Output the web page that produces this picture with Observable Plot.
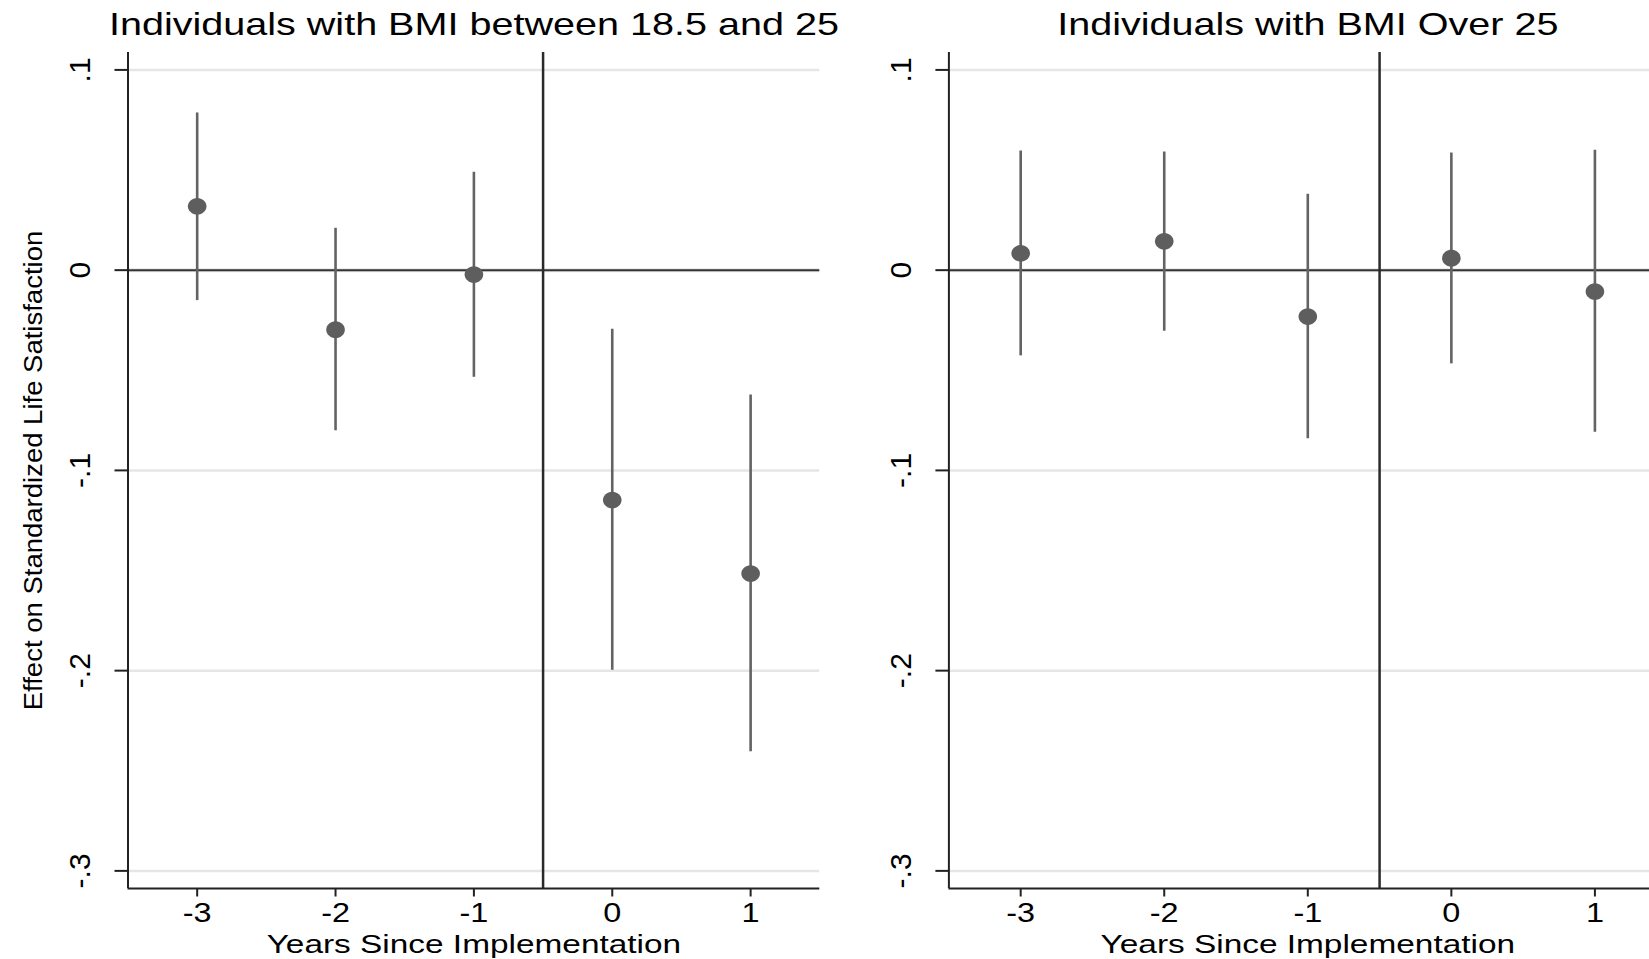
<!DOCTYPE html>
<html><head><meta charset="utf-8">
<script src="https://cdn.jsdelivr.net/npm/d3@7"></script>
<script src="https://cdn.jsdelivr.net/npm/@observablehq/plot@0.6"></script>
<style>
html,body{margin:0;padding:0;background:#fff;overflow:hidden;width:1649px;height:959px}
#wrap{position:relative;width:1649px;height:959px;overflow:hidden;background:#fff}
#left{position:absolute;left:0;top:0;width:830px;z-index:2}
#right{position:absolute;left:830px;top:0;width:850px;z-index:1}
#wrap svg{max-width:none !important;display:block;background:transparent !important}
</style></head><body><div id="wrap"><div id="left"></div><div id="right"></div></div>
<script>
// ---- data ----
const years = [-3, -2, -1, 0, 1];
const xTickLabels = ["-3", "-2", "-1", "0", "1"];
const yTicks = [0.1, 0, -0.1, -0.2, -0.3];
const yTickLabels = [".1", "0", "-.1", "-.2", "-.3"];
const titleLeft = "Individuals with BMI between 18.5 and 25";
const titleRight = "Individuals with BMI Over 25";
const xTitle = "Years Since Implementation";
const yTitle = "Effect on Standardized Life Satisfaction";
const normalEst = [0.0319, -0.0297, -0.0022, -0.1148, -0.1515];
const normalLo  = [-0.0152, -0.0802, -0.0535, -0.1998, -0.2405];
const normalHi  = [0.0785, 0.0209, 0.0489, -0.0295, -0.0623];
const overEst = [0.0084, 0.0144, -0.0232, 0.0060, -0.0107];
const overLo  = [-0.0428, -0.0305, -0.0842, -0.0468, -0.0810];
const overHi  = [0.0595, 0.0590, 0.0379, 0.0585, 0.0599];
const treatmentLine = -0.5;
const xDomain = [-3.5, 1.5];
const yDomain = [-0.3088, 0.1087];

// elliptical marker (Stata circles appear slightly wide)
const ellipse = {draw(ctx, size) {
  const r = Math.sqrt(size / Math.PI), rx = r * 1.12, ry = r, k = 0.5523;
  ctx.moveTo(rx, 0);
  ctx.bezierCurveTo(rx, k*ry, k*rx, ry, 0, ry);
  ctx.bezierCurveTo(-k*rx, ry, -rx, k*ry, -rx, 0);
  ctx.bezierCurveTo(-rx, -k*ry, -k*rx, -ry, 0, -ry);
  ctx.bezierCurveTo(k*rx, -ry, rx, -k*ry, rx, 0);
  ctx.closePath();
}};

function panel({title, est, lo, hi, width, marginLeft, marginRight, yTitleOn}) {
  const rows = years.map((x, i) => ({x, est: est[i], lo: lo[i], hi: hi[i]}));
  const yt = yTicks.map((v, i) => ({v, label: yTickLabels[i]}));
  const xt = years.map((v, i) => ({v, label: xTickLabels[i]}));
  const marks = [
    Plot.ruleY(yTicks.filter(v => v !== 0), {stroke: "#e6e6e6", strokeWidth: 2.5}),
    Plot.ruleY([0], {stroke: "#e6e6e6", strokeWidth: 4}),
    Plot.ruleY([0], {stroke: "#333333", strokeWidth: 2}),
    Plot.ruleX([treatmentLine], {stroke: "#2a2a2a", strokeWidth: 2.5}),
    Plot.ruleX(rows, {x: "x", y1: "lo", y2: "hi", stroke: "#636363", strokeWidth: 2.6}),
    Plot.dot(rows, {x: "x", y: "est", r: 8.3, symbol: ellipse, fill: "#5e5e5e", stroke: "none"}),
    Plot.ruleX([xDomain[0]], {stroke: "#222", strokeWidth: 2}),
    Plot.ruleY([yDomain[0]], {stroke: "#222", strokeWidth: 2}),
    Plot.axisY(yTicks, {anchor: "left", tickSize: 13, tickFormat: () => "", stroke: "#222", strokeWidth: 2, label: null}),
    Plot.axisX(years, {anchor: "bottom", tickSize: 8.5, tickFormat: () => "", stroke: "#222", strokeWidth: 2, label: null}),
    Plot.text(yt, {y: "v", text: "label", frameAnchor: "left", dx: -48, rotate: -90, lineAnchor: "middle", textAnchor: "middle", fontSize: 30, fill: "#000", ariaDescription: "ytick"}),
    Plot.text(xt, {x: "v", text: "label", frameAnchor: "bottom", dy: 14.7, lineAnchor: "top", textAnchor: "middle", fontSize: 27, fill: "#000", ariaDescription: "xtick"}),
    Plot.text([xTitle], {text: d => d, frameAnchor: "bottom", dy: 45.5, lineAnchor: "top", textAnchor: "middle", fontSize: 26.5, fill: "#000", ariaDescription: "xtitle"}),
    Plot.text([title], {text: d => d, frameAnchor: "top", dy: -40.3, lineAnchor: "top", textAnchor: "middle", fontSize: 32, fill: "#000", ariaDescription: "title"})
  ];
  if (yTitleOn) marks.push(Plot.text([yTitle], {text: d => d, frameAnchor: "left", dx: -93.6, rotate: -90, lineAnchor: "middle", textAnchor: "middle", fontSize: 25, fill: "#000", ariaDescription: "ytitle"}));
  return Plot.plot({
    width, height: 959, marginLeft, marginRight, marginTop: 52, marginBottom: 71,
    x: {domain: xDomain}, y: {domain: yDomain},
    style: {fontFamily: "'Liberation Sans', Arial, Helvetica, sans-serif", background: "transparent", overflow: "visible", maxWidth: "none"},
    marks
  });
}

function stretch(svg, label, f) {
  svg.querySelectorAll(`g[aria-description="${label}"] text`).forEach(t => {
    const L = t.getComputedTextLength();
    t.setAttribute("textLength", L * f);
    t.setAttribute("lengthAdjust", "spacingAndGlyphs");
  });
}

const left = panel({title: titleLeft, est: normalEst, lo: normalLo, hi: normalHi, width: 830, marginLeft: 127.5, marginRight: 10.7, yTitleOn: true});
const right = panel({title: titleRight, est: overEst, lo: overLo, hi: overHi, width: 850, marginLeft: 118.4, marginRight: 13.8, yTitleOn: false});
document.getElementById("left").appendChild(left);
document.getElementById("right").appendChild(right);
for (const svg of [left, right]) {
  stretch(svg, "title", 1.236);
  stretch(svg, "xtick", 1.2);
  stretch(svg, "xtitle", 1.26);
  stretch(svg, "ytitle", 1.10);
}
</script></body></html>
